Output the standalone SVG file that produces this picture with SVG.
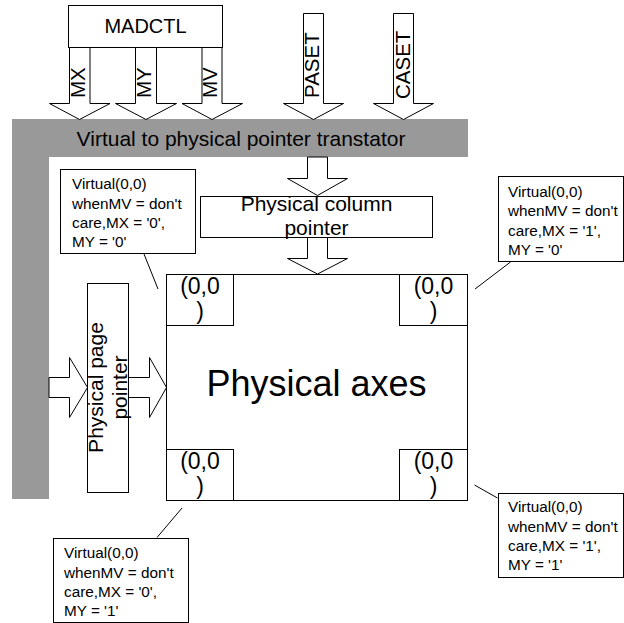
<svg xmlns="http://www.w3.org/2000/svg" width="624" height="623" viewBox="0 0 624 623">
<style>
text{font-family:"Liberation Sans",Arial,sans-serif;fill:#000}
.box{fill:#fff;stroke:#000;stroke-width:1}
.arr{fill:#fff;stroke:#000;stroke-width:1;stroke-linejoin:miter}
.gray{fill:#999999;stroke:none}
.ln{stroke:#000;stroke-width:1;fill:none}
.t20{font-size:20px}
.tv{font-size:20.5px}
.t21{font-size:21px}
.t23{font-size:23px}
.t15{font-size:15.3px}
.mid{text-anchor:middle}
</style>
<rect width="624" height="623" fill="#fff"/>

<g id="translator">
<path class="gray" d="M12,119 H468 V157 H49 V499 H12 Z"/>
<text class="t21 mid" x="241" y="146">Virtual to physical pointer transtator</text>
</g>

<g id="madctl">
<rect class="box" x="68.5" y="5.5" width="154" height="42"/>
<text class="t20 mid" x="145.5" y="33">MADCTL</text>
</g>

<g id="connectors">
<polygon id="arrow-mx" class="arr" points="69.5,47.5 69.5,103.5 49.5,103.5 79.5,119.5 110,103.5 90,103.5 90,47.5"/>
<polygon id="arrow-my" class="arr" points="135.5,47.5 135.5,103.5 115.5,103.5 146,119.5 176.5,103.5 156.5,103.5 156.5,47.5"/>
<polygon id="arrow-mv" class="arr" points="202,47.5 202,103.5 182,103.5 212,119.5 242.5,103.5 222,103.5 222,47.5"/>
<polygon id="arrow-paset" class="arr" points="303.5,13.5 303.5,103.5 283.5,103.5 313.5,119.5 343.5,103.5 323.5,103.5 323.5,13.5"/>
<polygon id="arrow-caset" class="arr" points="393.5,13.5 393.5,103.5 373.5,103.5 403.5,119.5 433.5,103.5 413.5,103.5 413.5,13.5"/>
<polygon id="arrow-col1" class="arr" points="307.5,157 307.5,178.5 287.5,178.5 317.5,195.5 347.5,178.5 327.5,178.5 327.5,157"/>
<polygon id="arrow-col2" class="arr" points="307.5,237.5 307.5,258.5 287.5,258.5 317.5,274 347.5,258.5 327.5,258.5 327.5,237.5"/>
<polygon id="arrow-page1" class="arr" points="49,377.5 69.5,377.5 69.5,357.5 87.5,387.5 69.5,417.5 69.5,397.5 49,397.5"/>
<polygon id="arrow-page2" class="arr" points="128.5,377.5 149.5,377.5 149.5,357.5 166.5,387.5 149.5,417.5 149.5,397.5 128.5,397.5"/>
<line class="ln" x1="144" y1="254" x2="158" y2="289"/>
<line class="ln" x1="510.5" y1="262" x2="475" y2="289"/>
<line class="ln" x1="182" y1="508" x2="157" y2="537.5"/>
<line class="ln" x1="474.5" y1="485" x2="497.5" y2="498"/>
</g>

<g id="arrow-labels">
<text class="tv" transform="translate(85,98) rotate(-90)">MX</text>
<text class="tv" transform="translate(151,98) rotate(-90)">MY</text>
<text class="tv" transform="translate(217,98) rotate(-90)">MV</text>
<text class="tv" transform="translate(319,98) rotate(-90)">PASET</text>
<text class="tv" transform="translate(410,99) rotate(-90)">CASET</text>
</g>

<g id="column-pointer">
<rect class="box" x="200.5" y="196.5" width="232" height="41"/>
<text class="t21 mid" x="316.5" y="211">Physical column</text>
<text class="t21 mid" x="316.5" y="235">pointer</text>
</g>

<g id="page-pointer">
<rect class="box" x="87.5" y="283.5" width="41" height="209"/>
<text class="t21 mid" transform="translate(103,387.5) rotate(-90)">Physical page</text>
<text class="t21 mid" transform="translate(127,387.5) rotate(-90)">pointer</text>
</g>

<g id="physical-axes">
<rect class="box" x="166.5" y="274.5" width="301" height="226"/>
<text class="mid" style="font-size:36px" x="316.5" y="396">Physical axes</text>
</g>

<g id="corner-tl">
<rect class="box" x="166.5" y="274.5" width="67" height="51"/>
<text class="t23 mid" x="200" y="294">(0,0</text>
<text class="t23 mid" x="200" y="319">)</text>
</g>
<g id="corner-tr">
<rect class="box" x="399.5" y="274.5" width="68" height="51"/>
<text class="t23 mid" x="433.5" y="294">(0,0</text>
<text class="t23 mid" x="433.5" y="319">)</text>
</g>
<g id="corner-bl">
<rect class="box" x="166.5" y="449.5" width="67" height="51"/>
<text class="t23 mid" x="200" y="469">(0,0</text>
<text class="t23 mid" x="200" y="494">)</text>
</g>
<g id="corner-br">
<rect class="box" x="399.5" y="449.5" width="68" height="51"/>
<text class="t23 mid" x="433.5" y="469">(0,0</text>
<text class="t23 mid" x="433.5" y="494">)</text>
</g>

<g id="note-tl">
<rect class="box" x="60.5" y="169.5" width="135" height="84"/>
<text class="t15" x="72" y="189">Virtual(0,0)</text>
<text class="t15" x="72" y="208.5">whenMV = don't</text>
<text class="t15" x="72" y="228">care,MX = '0',</text>
<text class="t15" x="72" y="247">MY = '0'</text>
</g>
<g id="note-tr">
<rect class="box" x="498.5" y="176.5" width="125" height="85"/>
<text class="t15" x="508" y="196.5">Virtual(0,0)</text>
<text class="t15" x="508" y="216">whenMV = don't</text>
<text class="t15" x="508" y="235.5">care,MX = '1',</text>
<text class="t15" x="508" y="255">MY = '0'</text>
</g>
<g id="note-bl">
<rect class="box" x="53.5" y="538.5" width="135" height="84"/>
<text class="t15" x="64" y="558">Virtual(0,0)</text>
<text class="t15" x="64" y="577.5">whenMV = don't</text>
<text class="t15" x="64" y="597">care,MX = '0',</text>
<text class="t15" x="64" y="616">MY = '1'</text>
</g>
<g id="note-br">
<rect class="box" x="498.5" y="493.5" width="125" height="84"/>
<text class="t15" x="508" y="512">Virtual(0,0)</text>
<text class="t15" x="508" y="531.5">whenMV = don't</text>
<text class="t15" x="508" y="551">care,MX = '1',</text>
<text class="t15" x="508" y="570">MY = '1'</text>
</g>
</svg>
